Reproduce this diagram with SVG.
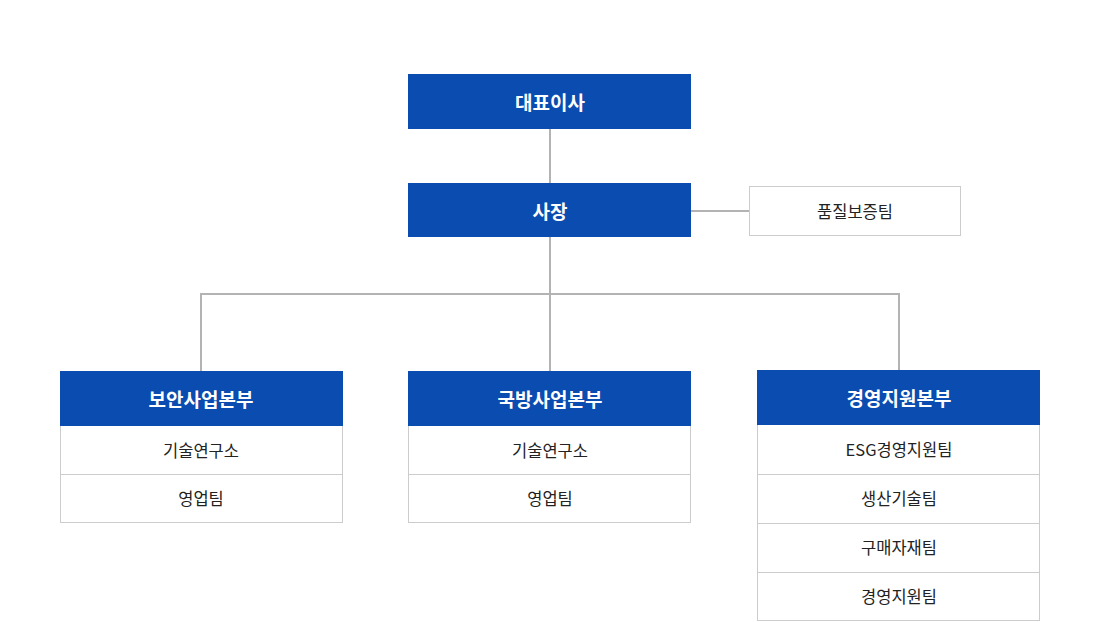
<svg xmlns="http://www.w3.org/2000/svg" width="1100" height="622" viewBox="0 0 1100 622">
<style>
.hd{fill:#0a4cb0}
.ht{fill:#fff;font-family:"Noto Sans CJK KR","Noto Sans",sans-serif;font-size:19px;font-weight:bold;text-anchor:middle;dominant-baseline:central}
.bx{fill:#fff;stroke:#cccccc;stroke-width:1}
.bt{fill:#222;font-family:"Noto Sans CJK KR","Noto Sans",sans-serif;font-size:16.5px;text-anchor:middle;dominant-baseline:central}
.ln{fill:none;stroke:#b3b3b3;stroke-width:2}
</style>
<rect width="1100" height="622" fill="#fff"/>
<g id="connectors">
<path class="ln" d="M550 129V183"/>
<path class="ln" d="M691 211H749"/>
<path class="ln" d="M550 237V371"/>
<path class="ln" d="M201 371V294H899V371"/>
</g>
<g id="ceo"><rect class="hd" x="408" y="74" width="283" height="55"/><text class="ht" x="550" y="101">대표이사</text></g>
<g id="president"><rect class="hd" x="408" y="183" width="283" height="54"/><text class="ht" x="550" y="210">사장</text></g>
<g id="qa"><rect class="bx" x="749.5" y="186.5" width="211" height="49"/><text class="bt" x="855" y="211">품질보증팀</text></g>
<g id="div1">
<rect class="bx" x="60.5" y="371.5" width="282" height="151"/>
<rect class="hd" x="60" y="371" width="283" height="55"/><text class="ht" x="201" y="398">보안사업본부</text>
<line x1="60" y1="474.5" x2="343" y2="474.5" stroke="#ccc"/>
<text class="bt" x="201" y="450">기술연구소</text>
<text class="bt" x="201" y="498">영업팀</text>
</g>
<g id="div2">
<rect class="bx" x="408.5" y="371.5" width="282" height="151"/>
<rect class="hd" x="408" y="371" width="283" height="55"/><text class="ht" x="550" y="398">국방사업본부</text>
<line x1="408" y1="474.5" x2="691" y2="474.5" stroke="#ccc"/>
<text class="bt" x="550" y="450">기술연구소</text>
<text class="bt" x="550" y="498">영업팀</text>
</g>
<g id="div3">
<rect class="bx" x="757.5" y="370.5" width="282" height="250"/>
<rect class="hd" x="757" y="370" width="283" height="55"/><text class="ht" x="899" y="397">경영지원본부</text>
<line x1="757" y1="474.5" x2="1040" y2="474.5" stroke="#ccc"/>
<line x1="757" y1="523.5" x2="1040" y2="523.5" stroke="#ccc"/>
<line x1="757" y1="572.5" x2="1040" y2="572.5" stroke="#ccc"/>
<text class="bt" x="899" y="449">ESG경영지원팀</text>
<text class="bt" x="899" y="498">생산기술팀</text>
<text class="bt" x="899" y="547">구매자재팀</text>
<text class="bt" x="899" y="596">경영지원팀</text>
</g>
</svg>
